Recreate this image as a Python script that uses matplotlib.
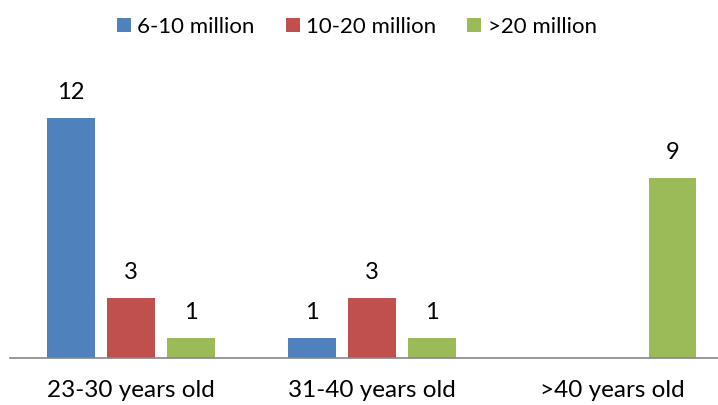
import matplotlib
matplotlib.use("Agg")
import matplotlib.pyplot as plt
from matplotlib.patches import Patch
import numpy as np

categories = ["23-30 years old", "31-40 years old", ">40 years old"]
series_names = ["6-10 million", "10-20 million", ">20 million"]
s_6_10 = [12, 1, 0]
s_10_20 = [3, 3, 0]
s_20plus = [1, 1, 9]
colors = ["#4F81BD", "#C0504D", "#9BBB59"]

plt.rcParams['font.family'] = ['Lato', 'DejaVu Sans']

fig = plt.figure(figsize=(7.18, 4.05), dpi=100)
ax = fig.add_axes([10/718, 47/405, 708/718, 280/405])

x = np.arange(len(categories))
width = 48/241
offs = [-60/241, 0, 60/241]
for vals, off, col in zip([s_6_10, s_10_20, s_20plus], offs, colors):
    ax.bar(x + off, vals, width=width, color=col)
    for xi, v in zip(x + off, vals):
        if v > 0:
            ax.annotate(str(v), (xi, v), xytext=(0, 11), textcoords="offset points",
                        ha="center", va="bottom", fontsize=17, color="#000000")

ax.set_xlim(-0.5, -0.5 + 708/241)
ax.set_ylim(0, 14)
ax.set_yticks([])
ax.set_xticks(x)
ax.set_xticklabels(categories, fontsize=17.5)
ax.tick_params(axis='x', length=0, pad=16)
for s in ["top", "right", "left"]:
    ax.spines[s].set_visible(False)
ax.spines["bottom"].set_color("#868686")
ax.spines["bottom"].set_linewidth(1.2)

handles = [Patch(facecolor=c, edgecolor='none') for c in colors]
fig.legend(handles, series_names, loc="center", bbox_to_anchor=(0.497, 1 - 27/405),
           ncol=3, frameon=False, fontsize=16, handlelength=0.62, handleheight=0.62,
           handletextpad=0.3, columnspacing=1.4)

fig.savefig("out.png", dpi=100)
